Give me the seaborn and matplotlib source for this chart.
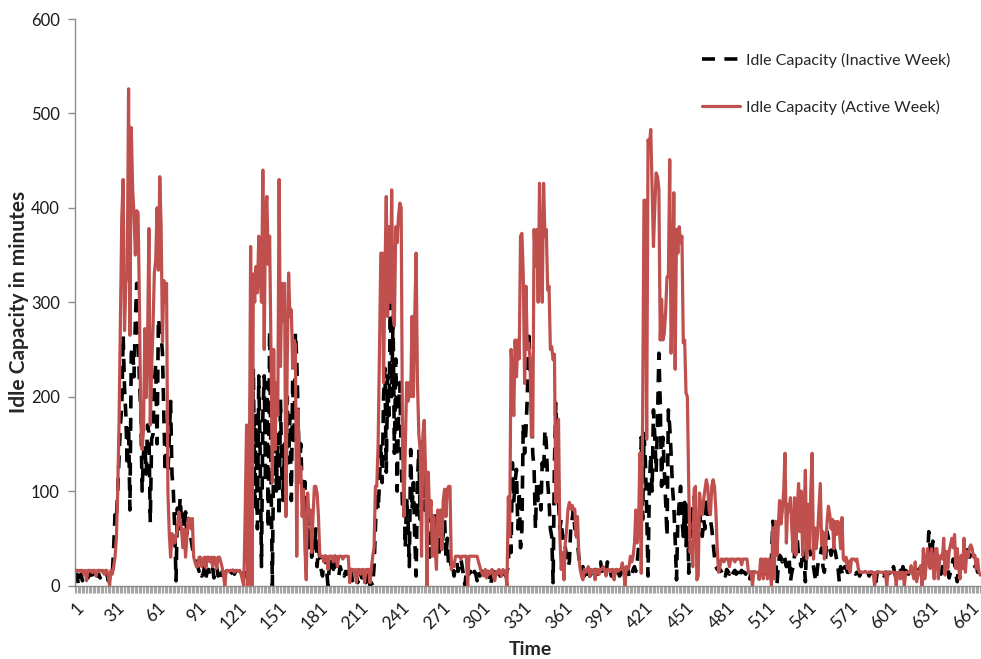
import matplotlib
matplotlib.use("Agg")
import matplotlib.pyplot as plt
import seaborn as sns
import numpy as np
import pandas as pd

# ---- data ----
active_week = [
    16,16,16,15,16,16,12,16,5,16,16,16,14,16,16,10,16,16,16,15,16,12,16,16,10,0,
    16,12,20,30,50,100,175,280,390,430,270,320,330,526,
    265,485,420,393,350,397,395,300,173,144,165,272,199,260,378,170,230,272,331,345,
    400,334,433,380,258,323,300,320,100,55,30,55,52,45,52,60,78,70,60,40,
    60,30,50,71,71,60,71,30,25,20,20,30,30,20,28,30,19,30,30,25,
    30,20,30,29,18,30,30,25,19,10,0,16,16,15,16,16,16,14,16,16,
    15,16,12,5,0,80,170,0,100,359,0,330,300,338,310,370,330,300,440,250,
    400,412,340,370,250,109,250,144,215,180,430,232,320,280,320,73,240,331,285,292,
    230,260,255,31,186,109,126,73,102,40,6,98,73,80,35,73,105,105,98,73,
    31,31,31,25,31,31,17,31,31,31,25,31,31,20,31,31,31,28,31,31,
    31,31,3,17,17,15,17,3,17,17,12,17,17,3,17,17,17,3,17,31,
    40,105,105,150,250,352,352,215,330,412,285,380,300,419,285,275,380,363,391,405,
    400,144,73,144,215,195,215,200,285,200,285,352,215,160,144,31,160,175,120,0,
    120,73,90,31,73,38,17,80,55,80,38,90,102,73,102,105,105,17,24,20,
    31,31,31,31,28,31,31,31,31,0,31,31,31,31,31,31,31,25,20,15,
    12,10,17,8,15,12,15,17,10,5,15,12,17,15,10,17,15,12,0,94,
    52,250,228,180,260,221,260,240,370,373,330,214,317,250,257,240,158,158,377,338,
    377,300,426,340,300,426,370,377,313,317,250,253,239,245,88,123,176,52,17,35,
    6,45,60,81,88,81,85,80,81,52,73,30,17,10,6,17,14,17,20,10,
    17,15,17,6,17,17,12,17,17,20,17,10,17,17,15,17,17,6,17,17,
    15,17,17,24,17,0,20,17,20,31,25,31,45,80,45,60,140,13,176,408,
    408,155,472,465,483,420,359,401,437,433,420,260,303,260,267,290,327,327,451,246,
    303,416,229,377,352,380,363,370,257,260,204,200,105,35,45,20,102,105,6,10,
    98,80,75,91,102,112,105,80,75,105,112,105,80,40,14,20,28,28,25,28,
    28,28,20,28,28,28,25,28,28,28,28,22,28,28,28,28,14,14,14,0,
    14,14,14,14,7,28,28,7,28,28,7,28,14,0,61,7,68,32,60,90,
    65,79,100,140,45,86,79,93,60,35,93,32,80,108,57,100,32,70,122,28,
    86,39,100,140,28,61,39,54,80,108,43,57,28,39,68,84,75,60,70,39,
    68,54,68,60,39,72,28,26,30,18,26,14,28,28,28,26,28,18,14,14,
    14,14,15,14,14,14,14,14,14,0,14,14,14,14,14,14,14,14,0,14,
    14,14,14,14,14,0,14,14,7,14,14,0,14,14,14,14,21,14,7,25,
    4,11,14,21,0,39,7,20,39,28,18,39,25,7,39,39,7,28,32,28,
    50,11,36,18,36,43,50,40,54,18,39,20,7,32,18,50,14,36,30,40,
    43,39,30,32,18,28,14,11,
]

inactive_week = [
    8,12,0,10,12,5,12,10,12,8,12,12,10,5,12,12,10,12,8,12,12,12,10,12,5,12,
    10,12,40,75,70,100,137,170,190,265,210,180,126,170,
    80,246,253,221,280,320,265,217,184,100,140,150,118,170,162,67,155,160,213,235,
    150,283,272,265,246,180,120,155,118,155,195,118,100,60,5,82,60,93,70,78,
    60,78,55,71,60,50,40,35,30,25,20,15,18,10,12,20,8,15,17,10,
    12,18,8,15,20,10,12,5,15,12,14,12,16,15,12,14,16,12,15,14,
    12,16,14,10,8,30,60,140,90,200,120,230,80,180,60,222,140,20,180,222,
    109,215,60,270,120,0,150,186,100,160,73,197,120,90,150,100,200,130,180,90,
    220,150,268,240,180,117,150,100,73,110,38,60,40,73,30,50,38,60,20,40,
    30,17,10,25,31,17,0,20,31,25,17,31,20,17,10,20,15,17,10,15,
    12,15,10,17,5,12,15,10,3,15,12,8,15,10,3,12,15,0,3,0,
    20,60,100,80,109,150,109,200,230,120,222,180,300,200,285,140,240,100,180,215,
    137,80,109,40,90,73,20,144,80,109,50,10,110,144,70,109,158,80,120,60,
    90,30,50,70,40,80,50,60,30,70,40,55,70,30,50,20,30,17,20,10,
    20,25,15,20,28,20,10,0,15,20,12,15,10,8,15,12,5,15,10,12,
    15,10,12,8,15,10,0,12,15,10,8,12,15,10,12,8,15,10,15,20,
    70,35,130,88,110,123,60,100,40,59,172,140,165,200,270,236,193,140,123,60,
    110,90,105,80,130,120,165,151,109,90,60,52,3,130,193,150,88,60,70,50,
    52,40,30,20,25,60,70,80,60,70,45,30,20,17,20,10,17,12,15,10,
    12,15,10,17,15,12,20,25,15,17,12,10,25,20,15,10,12,15,8,12,
    15,10,12,15,10,15,12,17,10,15,12,17,20,15,25,40,80,157,70,161,
    133,80,10,105,140,100,186,157,120,176,246,193,105,157,123,88,52,186,168,140,
    105,84,49,6,70,88,105,70,52,88,42,88,13,70,52,88,94,70,60,52,
    80,60,52,70,60,94,70,94,70,60,45,30,20,17,20,17,15,12,15,10,
    17,15,12,15,10,14,16,12,14,7,14,16,14,14,12,16,14,7,14,14,
    14,14,12,14,7,16,12,7,14,14,16,14,10,30,68,55,40,0,20,32,
    30,25,32,28,20,28,30,4,14,20,32,45,50,30,25,20,39,28,4,50,
    54,39,32,28,20,10,4,20,28,32,40,20,14,30,57,50,39,32,45,40,
    36,28,20,4,20,14,10,20,20,14,14,12,14,16,14,12,14,14,10,14,
    14,12,14,16,14,10,14,14,12,14,4,14,14,12,14,14,10,14,14,12,
    14,10,14,20,12,8,14,14,16,14,20,8,16,14,12,14,14,20,10,16,
    14,20,16,20,14,20,12,30,25,57,40,28,47,30,20,32,25,20,12,20,
    20,18,22,20,8,14,20,28,24,11,4,20,16,30,25,20,30,40,36,30,
    32,28,25,20,22,14,20,16,
]

x_tick_labels = [str(v) for v in range(1, 662, 30)]
y_ticks = [0, 100, 200, 300, 400, 500, 600]

label_inactive = "Idle Capacity (Inactive Week)"
label_active = "Idle Capacity (Active Week)"

df_inactive = pd.DataFrame({"Time": np.arange(1, len(inactive_week) + 1), "Idle": inactive_week})
df_active = pd.DataFrame({"Time": np.arange(1, len(active_week) + 1), "Idle": active_week})
n_points = max(len(active_week), len(inactive_week))

# ---- style ----
sns.set_style("white")
plt.rcParams["font.family"] = ["Lato", "DejaVu Sans"]

W, H = 981, 659
fig = plt.figure(figsize=(W / 100, H / 100), dpi=100)
ax_left, ax_bottom_px, ax_top_px = 75, 585.5, 19
ax = fig.add_axes([ax_left / W, 1 - ax_bottom_px / H, (W - ax_left) / W,
                   (ax_bottom_px - ax_top_px) / H])

red = "#C0504D"
sns.lineplot(data=df_inactive, x="Time", y="Idle", ax=ax, color="black",
             linewidth=2.6, linestyle=(0, (3.6, 2.6)), label=label_inactive, zorder=2)
sns.lineplot(data=df_active, x="Time", y="Idle", ax=ax, color=red,
             linewidth=2.3, label=label_active, zorder=3)

ax.set_xlim(0.5, n_points + 0.5)
ax.set_ylim(0, 600)
ax.set_yticks(y_ticks)
ax.set_yticklabels([str(v) for v in y_ticks], fontsize=12, color="#1a1a1a")
ax.set_xticks([int(v) for v in x_tick_labels])
ax.set_xticklabels(x_tick_labels, rotation=45, ha="right", rotation_mode="anchor",
                   fontsize=12.5, color="#1a1a1a")
ax.set_xticks(np.arange(0.5, n_points + 1, 1.0), minor=True)

grey = "#8C8C8C"
for side in ["top", "right"]:
    ax.spines[side].set_visible(False)
for side in ["left", "bottom"]:
    ax.spines[side].set_color(grey)
    ax.spines[side].set_linewidth(1.0)
ax.tick_params(axis="y", which="major", left=True, length=5, width=1, color=grey,
               direction="out", pad=6)
ax.tick_params(axis="x", which="major", bottom=True, length=0, pad=10)
ax.tick_params(axis="x", which="minor", bottom=True, length=5, width=0.8,
               color="#A6A6A6", direction="out")

ax_w_px = W - ax_left
ax_h_px = ax_bottom_px - ax_top_px
ax.set_xlabel("Time", fontsize=14, fontweight="bold")
ax.xaxis.set_label_coords((530 - ax_left) / ax_w_px, -(641 - ax_bottom_px) / ax_h_px)
ax.set_ylabel("Idle Capacity in minutes", fontsize=15, fontweight="bold")
ax.yaxis.set_label_coords(-(ax_left - 29) / ax_w_px, 0.5)

leg = ax.legend(loc="upper right", bbox_to_anchor=(0.982, 0.966), frameon=False,
                fontsize=11.5, labelspacing=2.0, handlelength=2.35, handletextpad=0.4)

fig.savefig("out.png", dpi=100)
